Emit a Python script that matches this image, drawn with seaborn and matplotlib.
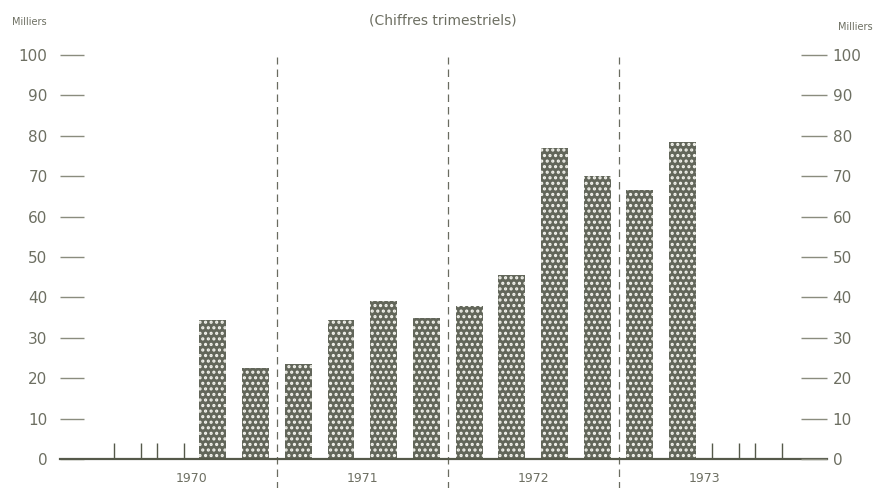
import numpy as np
import pandas as pd
import seaborn as sns
import matplotlib.pyplot as plt

# quarterly values (thousands), 1970 Q1 .. 1973 Q4
years = ["1970", "1971", "1972", "1973"]
quarters = ["T1", "T2", "T3", "T4"]
values_1970 = [0, 0, 34.5, 22.5]
values_1971 = [23.5, 34.5, 39, 35]
values_1972 = [38, 45.5, 77, 70]
values_1973 = [66.5, 78.5, 0, 0]
y_ticks = [0, 10, 20, 30, 40, 50, 60, 70, 80, 90, 100]

bar_color = "#62665a"
text_color = "#6d6f62"
line_color = "#55594a"

df = pd.DataFrame({
    "periode": [f"{y}-{q}" for y in years for q in quarters],
    "valeur": values_1970 + values_1971 + values_1972 + values_1973,
})

sns.set_style("white")
plt.rcParams["font.family"] = ["DejaVu Sans"]
plt.rcParams["hatch.linewidth"] = 1.5

fig = plt.figure(figsize=(8.81, 4.88), dpi=100)
fig.patch.set_facecolor("white")
ax = fig.add_axes([60 / 881, 29 / 488, 767 / 881, 412 / 488])

sns.barplot(data=df, x="periode", y="valeur", color=bar_color, width=0.63,
            saturation=1, ax=ax)

# dotted screen look: white dots on dark bars, zero bars as small edge ticks
for p in ax.patches:
    if p.get_height() > 0:
        p.set_facecolor(bar_color)
        p.set_edgecolor("#f4f4ee")
        p.set_linewidth(0)
        p.set_hatch("...")
    else:
        x0 = p.get_x()
        x1 = x0 + p.get_width()
        ax.vlines([x0, x1], 0, 4, color=line_color, lw=1.0)

ax.set_xlim(-1.58, 16.38)
ax.set_ylim(0, 102)

# year separators
for b in [3.5, 7.5, 11.5]:
    ax.plot([b, b], [-7.5, 99.5], color="#6a6c60", lw=0.9,
            linestyle=(0, (6, 4)), clip_on=False)

for s in ["top", "left", "right"]:
    ax.spines[s].set_visible(False)
ax.spines["bottom"].set_color(line_color)
ax.spines["bottom"].set_linewidth(1.6)

ax.set_xticks([1.5, 5.5, 9.5, 13.5])
ax.set_xticklabels(years)
ax.tick_params(axis="x", length=0, pad=9, labelsize=9, labelcolor=text_color)

ax.set_yticks(y_ticks)
ax.set_yticklabels([str(v) for v in y_ticks])
ax.tick_params(axis="y", direction="in", length=17, width=1.0, color="#8a8c7e",
               pad=9, labelsize=11, labelcolor=text_color)

ax2 = ax.twinx()
ax2.set_ylim(ax.get_ylim())
for s in ax2.spines.values():
    s.set_visible(False)
ax2.set_yticks(y_ticks)
ax2.set_yticklabels([str(v) for v in y_ticks])
ax2.tick_params(axis="y", direction="in", length=19, width=1.0, color="#8a8c7e",
                pad=4, labelsize=11, labelcolor=text_color)

ax.set_xlabel("")
ax.set_ylabel("")
ax.grid(False)

fig.text(443 / 881, 1 - 20 / 488, "(Chiffres trimestriels)", ha="center",
         va="center", fontsize=10, color=text_color)
fig.text(12 / 881, 1 - 22 / 488, "Milliers", ha="left", va="center",
         fontsize=7, color=text_color)
fig.text(873 / 881, 1 - 27 / 488, "Milliers", ha="right", va="center",
         fontsize=7, color=text_color)

fig.savefig("out.png", dpi=100, facecolor="white")
